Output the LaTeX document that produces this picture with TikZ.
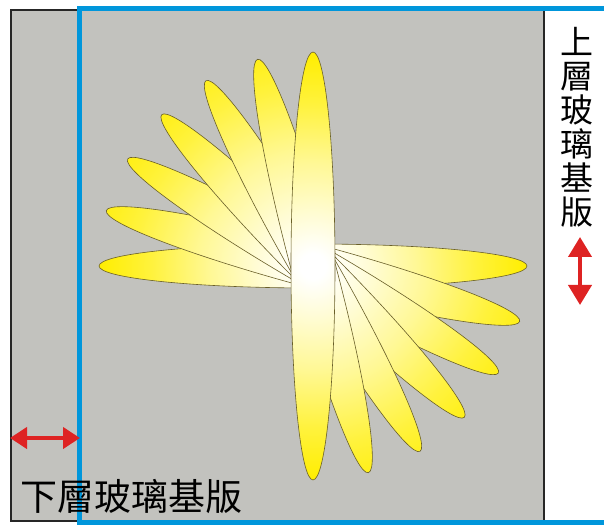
\documentclass[tikz,border=0pt]{standalone}
\usepackage{fontspec}
\newfontfamily\cjk{Noto Sans CJK TC}
\usetikzlibrary{shapes.geometric,arrows.meta}

\definecolor{glassgray}{RGB}{194,194,190}
\definecolor{frameblue}{RGB}{0,150,219}
\definecolor{arrowred}{RGB}{222,35,35}
\definecolor{petaledge}{RGB}{105,95,40}
\definecolor{petalyellow}{RGB}{255,238,0}
\definecolor{petaldeep}{RGB}{255,242,60}
\definecolor{petalmid}{RGB}{255,248,150}
\definecolor{petalcream}{RGB}{255,252,212}

% white core fading to saturated yellow at the petal tips
\pgfdeclareradialshading{petalshade}{\pgfpoint{0bp}{0bp}}{%
  color(0bp)=(white); color(1.5bp)=(white); color(6bp)=(petalcream);
  color(12bp)=(petalmid); color(19bp)=(petaldeep);
  color(25bp)=(petalyellow); color(50bp)=(petalyellow)}

\tikzset{
  petalshape/.style={ellipse, draw=petaledge, line width=0.6pt, inner sep=0pt,
    outer sep=0pt, minimum width=428pt, minimum height=44pt,
    path picture={\shade[shading=petalshade]
      (path picture bounding box.center) circle (214);}},
  redarrow/.style={arrowred, line width=4pt},
  cjklabel/.style={inner sep=0pt, text=black},
}

\begin{document}
\begin{tikzpicture}[x=1pt,y=1pt]
  \useasboundingbox (0,0) rectangle (604,525);
  \clip (0,0) rectangle (604,525);

  % lower glass substrate
  \draw[fill=glassgray, draw=black!85, line width=2pt] (11,4) rectangle (544,515);
  % upper glass substrate outline
  \draw[frameblue, line width=5pt] (79,3) rectangle (660,516);

  % liquid-crystal pinwheel: six tilted petals, then the upright one on top
  \coordinate (C) at (313,259);
  \foreach \ang [count=\i] in {0,-15,-30,-45,-60,-75}
    \node[petalshape, rotate=\ang] (petal\i) at (C) {};
  \node[petalshape, rotate=90] (petal7) at (C) {};

  % labels
  \node[cjklabel, align=center, font=\cjk\fontsize{33}{34}\selectfont]
    (upperlabel) at (577,398) {上\\層\\玻\\璃\\基\\版};
  \node[cjklabel, font=\cjk\fontsize{37}{40}\selectfont]
    (lowerlabel) at (131.5,28.5) {下層玻璃基版};

  % shift arrows
  \coordinate (ua) at (580,288);
  \coordinate (ub) at (580,220);
  \draw[redarrow, {Triangle[length=20pt,width=23pt]}-{Triangle[length=20pt,width=23pt]}] (ua) -- (ub);
  \coordinate (la) at (10,87);
  \coordinate (lb) at (80,87);
  \draw[redarrow, {Triangle[length=17pt,width=21pt]}-{Triangle[length=17pt,width=21pt]}] (la) -- (lb);
\end{tikzpicture}
\end{document}
